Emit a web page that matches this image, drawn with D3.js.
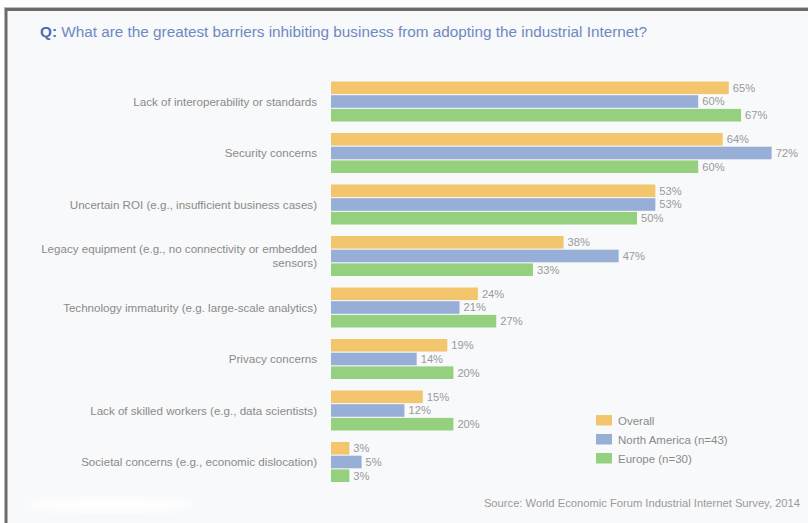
<!DOCTYPE html>
<html><head><meta charset="utf-8">
<script src="https://cdn.jsdelivr.net/npm/d3@7"></script>
<style>
html,body{margin:0;padding:0;background:#fff;}
svg{display:block;font-family:"Liberation Sans",Arial,sans-serif;}
</style></head>
<body>
<svg id="chart" width="808" height="523"></svg>
<script>
const categories = [
  ["Lack of interoperability or standards"],
  ["Security concerns"],
  ["Uncertain ROI (e.g., insufficient business cases)"],
  ["Legacy equipment (e.g., no connectivity or embedded", "sensors)"],
  ["Technology immaturity (e.g. large-scale analytics)"],
  ["Privacy concerns"],
  ["Lack of skilled workers (e.g., data scientists)"],
  ["Societal concerns (e.g., economic dislocation)"]
];
const seriesNames = ["Overall", "North America (n=43)", "Europe (n=30)"];
const overall = [65, 64, 53, 38, 24, 19, 15, 3];
const northAmerica = [60, 72, 53, 47, 21, 14, 12, 5];
const europe = [67, 60, 50, 33, 27, 20, 20, 3];
const colors = ["#f3c66e", "#97afd6", "#94d07d"];
const titleQ = "Q:";
const titleText = " What are the greatest barriers inhibiting business from adopting the industrial Internet?";
const sourceText = "Source: World Economic Forum Industrial Internet Survey, 2014";

const svg = d3.select("#chart");
// panel background and frame
svg.append("rect").attr("x", 6).attr("y", 9.5).attr("width", 900).attr("height", 600)
  .attr("fill", "#f8f9fb").attr("stroke", "#6b6b6b").attr("stroke-width", 3);
svg.append("line").attr("x1", 4).attr("x2", 808).attr("y1", 7.5).attr("y2", 7.5)
  .attr("stroke", "#bdbdbd").attr("stroke-width", 1);

// faint white blur artifact bottom-left
const defs = svg.append("defs");
defs.append("filter").attr("id", "blur").append("feGaussianBlur").attr("stdDeviation", 5);
svg.append("ellipse").attr("cx", 110).attr("cy", 505).attr("rx", 85).attr("ry", 7)
  .attr("fill", "#ffffff").attr("filter", "url(#blur)");

// title
const title = svg.append("text").attr("x", 40).attr("y", 37).attr("font-size", 15.3)
  .attr("fill", "#6f88c2");
title.append("tspan").attr("font-weight", "bold").attr("fill", "#4d6cae").text(titleQ);
title.append("tspan").text(titleText);

const x = d3.scaleLinear().domain([0, 100]).range([331, 943]);
const y0 = d3.scaleBand().domain(d3.range(categories.length)).range([81.5, 482]).paddingInner(0.223).paddingOuter(0);
const y1 = d3.scaleBand().domain([0, 1, 2]).range([0, y0.bandwidth()]).paddingInner(0.08);

const data = [overall, northAmerica, europe];
const groups = svg.append("g").selectAll("g").data(categories).join("g")
  .attr("transform", (d, i) => `translate(0,${y0(i)})`);

groups.each(function(cat, i) {
  const g = d3.select(this);
  data.forEach((arr, s) => {
    g.append("rect").attr("x", x(0)).attr("y", y1(s))
      .attr("width", x(arr[i]) - x(0)).attr("height", y1.bandwidth())
      .attr("fill", colors[s]);
    g.append("text").attr("x", x(arr[i]) + 4).attr("y", y1(s) + y1.bandwidth() / 2)
      .attr("dy", "0.35em").attr("font-size", 11.2).attr("fill", "#9a9a9a")
      .text(arr[i] + "%");
  });
  const cy = y0.bandwidth() / 2;
  const n = cat.length;
  cat.forEach((line, k) => {
    g.append("text").attr("x", 317).attr("y", cy + (k - (n - 1) / 2) * 14)
      .attr("dy", "0.35em").attr("text-anchor", "end").attr("font-size", 11.6)
      .attr("fill", "#8a8a8a").text(line);
  });
});

// legend
const legend = svg.append("g").selectAll("g").data(seriesNames).join("g")
  .attr("transform", (d, i) => `translate(596,${415 + i * 19})`);
legend.append("rect").attr("width", 16).attr("height", 10.5).attr("fill", (d, i) => colors[i]);
legend.append("text").attr("x", 22).attr("y", 5.5).attr("dy", "0.35em")
  .attr("font-size", 11.5).attr("fill", "#8a8a8a").text(d => d);

// source
svg.append("text").attr("x", 800).attr("y", 507).attr("text-anchor", "end")
  .attr("font-size", 11.2).attr("fill", "#9a9a9a").text(sourceText);
</script>
</body></html>
